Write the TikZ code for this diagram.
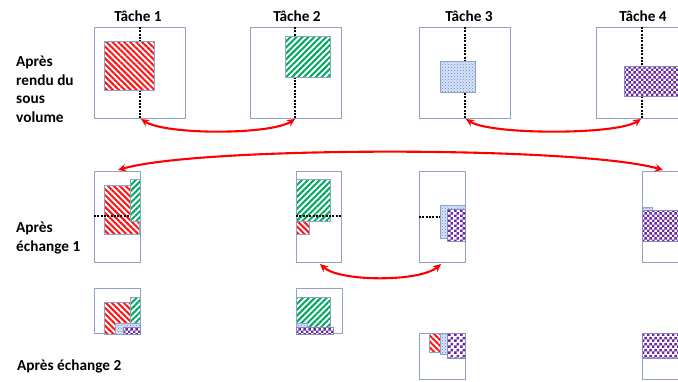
\documentclass[tikz,border=0pt]{standalone}
\usepackage{fontspec}
\setmainfont{Carlito}
\usetikzlibrary{patterns,patterns.meta,arrows.meta}
\pgfdeclarepatternformonly{checker}{\pgfpointorigin}{\pgfpoint{5.4pt}{5.4pt}}{\pgfpoint{5.4pt}{5.4pt}}{%
 \pgfpathrectangle{\pgfpointorigin}{\pgfpoint{2.7pt}{2.7pt}}%
 \pgfpathrectangle{\pgfpoint{2.7pt}{2.7pt}}{\pgfpoint{2.7pt}{2.7pt}}%
 \pgfusepath{fill}}
\definecolor{boxc}{RGB}{143,162,200}
\definecolor{redc}{RGB}{255,20,20}
\definecolor{greenc}{RGB}{0,168,95}
\definecolor{purplec}{RGB}{105,40,160}
\definecolor{bluelt}{RGB}{215,228,248}
\definecolor{bluedk}{RGB}{95,135,205}
\begin{document}
\begin{tikzpicture}[x=1pt,y=-1pt,
  every node/.style={font=\fontsize{15.3}{18.5}\selectfont\bfseries, inner sep=0pt},
  frame/.style={draw=boxc, line width=1pt, fill=white},
  dots/.style={draw=black, line width=1.4pt, dash pattern=on 2pt off 1.3pt},
  rblk/.style={preaction={fill=white}, pattern color=redc, pattern={Lines[angle=-45,distance=4.2pt,line width=2pt]}, draw=boxc, line width=0.6pt},
  gblk/.style={preaction={fill=white}, pattern color=greenc, pattern={Lines[angle=45,distance=4.2pt,line width=2pt]}, draw=boxc, line width=0.6pt},
  bblk/.style={preaction={fill=bluelt}, pattern color=bluedk, pattern=crosshatch dots, draw=boxc, line width=0.6pt},
  pblk/.style={preaction={fill=white}, pattern color=purplec, pattern=checker, draw=boxc!80!purplec, line width=0.6pt},
  arr/.style={draw=red, line width=2.1pt, {Stealth[length=8pt,width=7.5pt]}-{Stealth[length=8pt,width=7.5pt]}}]
\useasboundingbox (0,0) rectangle (678,381);
\clip (0,0) rectangle (678,381);

% titles
\node (h1) at (138,16) {Tâche 1};
\node (h2) at (297,16) {Tâche 2};
\node (h3) at (469,16) {Tâche 3};
\node (h4) at (643,16) {Tâche 4};

% row labels
\node[anchor=west, align=left] (l1) at (16,89.5) {Après\\rendu du\\sous\\volume};
\node[anchor=west, align=left] (l2) at (16,238) {Après\\échange 1};
\node[anchor=west] (l3) at (17,366) {Après échange 2};

% ---- row 1
\draw[frame] (94,27) rectangle (185,118);
\draw[dots] (140,27) -- (140,118);
\draw[rblk] (104,41) rectangle (154,90);

\draw[frame] (250,27) rectangle (341,118);
\draw[dots] (295,27) -- (295,118);
\draw[gblk] (285,36) rectangle (330,77);

\draw[frame] (419,27) rectangle (510,118);
\draw[dots] (465,27) -- (465,118);
\draw[bblk] (440,61) rectangle (475,92);

\draw[frame] (596,27) rectangle (690,118);
\draw[dots] (642,27) -- (642,118);
\draw[pblk] (624,66) rectangle (690,96);

\coordinate (a1) at (141,119);
\coordinate (a2) at (295,119);
\coordinate (a3) at (466,119);
\coordinate (a4) at (641,119);
\draw[arr] (a1) .. controls +(25,16) and +(-25,16) .. (a2);
\draw[arr] (a3) .. controls +(25,16) and +(-25,16) .. (a4);

% ---- row 2
\draw[frame] (94,171) rectangle (140,262);
\draw[rblk] (104,185) rectangle (139,234);
\draw[dots] (94,216) -- (130,216);
\draw[gblk] (130,179) rectangle (140,221);

\draw[frame] (296,171) rectangle (341,262);
\draw[gblk] (296,179) rectangle (330,221);
\draw[rblk] (296,221) rectangle (309,234);
\draw[dots] (296,216) -- (341,216);

\draw[frame] (419,171) rectangle (465,262);
\draw[dots] (419,217) -- (440,217);
\draw[bblk] (440,205) rectangle (465,238);
\draw[pblk] (447,209) rectangle (465,241);

\draw[frame] (642,171) rectangle (690,262);
\draw[bblk] (642,207) rectangle (652,210);
\draw[pblk] (642,210) rectangle (690,241);

\coordinate (b1) at (118,170);
\coordinate (b2) at (663,170);
\draw[arr] (b1) .. controls (200,146) and (580,146) .. (b2);
\coordinate (c1) at (320,264);
\coordinate (c2) at (441,264);
\draw[arr] (c1) .. controls (340,282) and (420,282) .. (c2);

% ---- row 3
\draw[frame] (94,288) rectangle (140,333);
\draw[rblk] (104,302) rectangle (130,334);
\draw[gblk] (130,297) rectangle (140,323);
\draw[bblk] (115,323) rectangle (140,334);
\draw[pblk] (123,327) rectangle (140,334);

\draw[frame] (296,288) rectangle (342,333);
\draw[gblk] (296,297) rectangle (330,327);
\draw[bblk] (296,323) rectangle (307,327);
\draw[pblk] (296,327) rectangle (333,334);

\draw[frame] (419,333) rectangle (465,379);
\draw[rblk] (429,333) rectangle (440,352);
\draw[bblk] (440,333) rectangle (447,354);
\draw[pblk] (447,333) rectangle (465,358);

\draw[frame] (642,333) rectangle (690,379);
\draw[pblk] (642,333) rectangle (690,358);
\end{tikzpicture}
\end{document}
